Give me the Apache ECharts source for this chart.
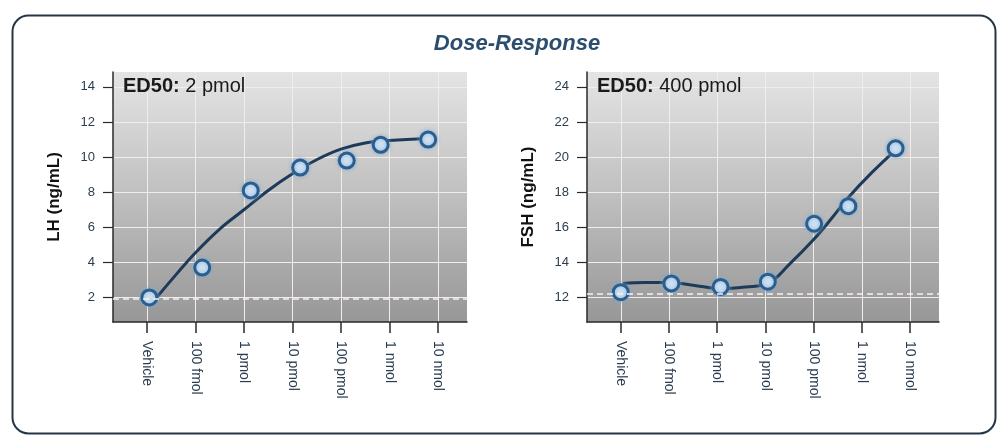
<!DOCTYPE html>
<html>
<head>
<meta charset="utf-8">
<script src="https://cdn.jsdelivr.net/npm/echarts@6/dist/echarts.min.js"></script>
<style>
html,body{margin:0;padding:0;background:#fff;}
#chart{width:997px;height:435px;}
</style>
</head>
<body>
<div id="chart"></div>
<script>
// Category labels (dose)
var doseLabels = ['Vehicle', '100 fmol', '1 pmol', '10 pmol', '100 pmol', '1 nmol', '10 nmol'];
var doseTickPos = [0, 1, 2, 3, 4, 5, 6];

// LH panel
var lhPointX = [0.05, 1.14, 2.14, 3.16, 4.12, 4.82, 5.80];
var lhPointY = [2.0, 3.7, 8.1, 9.4, 9.8, 10.7, 11.0];
var lhFitX = [0.2, 0.6, 1.0, 1.5, 2.0, 2.5, 3.0, 3.5, 4.0, 4.5, 5.0, 5.8];
var lhFitY = [2.0, 3.3, 4.55, 5.9, 7.0, 8.1, 9.05, 9.85, 10.45, 10.8, 10.95, 11.05];
var lhBaseline = 1.95;
var lhTicks = [2, 4, 6, 8, 10, 12, 14];

// FSH panel
var fshPointX = [0.0, 1.05, 2.07, 3.05, 4.01, 4.72, 5.70];
var fshPointY = [12.3, 12.8, 12.6, 12.9, 16.2, 17.2, 20.5];
var fshFitX = [0.05, 0.5, 1.0, 1.5, 2.07, 2.6, 3.05, 3.5, 4.0, 4.4, 4.72, 5.2, 5.7];
var fshFitY = [12.8, 12.85, 12.85, 12.7, 12.5, 12.6, 12.8, 13.9, 15.3, 16.6, 17.7, 19.1, 20.4];
var fshBaseline = 12.2;
var fshTicks = [12, 14, 16, 18, 20, 22, 24];

function pairs(xs, ys) { return xs.map(function (x, i) { return [x, ys[i]]; }); }

var FONT = "'Liberation Sans', Arial, sans-serif";
var axisColor = '#2a2a2a';
var labelColor = '#2b3d4f';
var gridLineColor = '#f4ece8';

function bgGradient() {
  return new echarts.graphic.LinearGradient(0, 0, 0, 1, [
    { offset: 0, color: '#e4e4e4' },
    { offset: 0.5, color: '#bfbfbf' },
    { offset: 1, color: '#979797' }
  ]);
}

function makeX(gridIndex) {
  return {
    type: 'value', gridIndex: gridIndex, min: -0.7, max: 6.6,
    axisLine: { show: true, onZero: false, lineStyle: { color: axisColor, width: 1.5 } },
    axisTick: { show: true, customValues: doseTickPos, length: 11, lineStyle: { color: axisColor, width: 1.5 } },
    axisLabel: {
      customValues: doseTickPos, rotate: -90, margin: 19,
      fontFamily: FONT, fontSize: 14, color: labelColor,
      formatter: function (v) { return doseLabels[Math.round(v)] || ''; }
    },
    splitLine: { show: true, lineStyle: { color: gridLineColor, width: 1 } }
  };
}

function makeY(gridIndex, min, max, ticks, name) {
  return {
    type: 'value', gridIndex: gridIndex, min: min, max: max,
    name: name, nameLocation: 'middle', nameGap: 50, nameRotate: 90,
    nameTextStyle: { fontFamily: FONT, fontSize: 17, fontWeight: 'bold', color: '#111' },
    axisLine: { show: true, onZero: false, lineStyle: { color: axisColor, width: 1.5 } },
    axisTick: { show: true, customValues: ticks, length: 10, lineStyle: { color: axisColor, width: 1.2 } },
    axisLabel: { customValues: ticks, margin: 18, fontFamily: FONT, fontSize: 13, color: labelColor },
    splitLine: { show: true, lineStyle: { color: gridLineColor, width: 1 } }
  };
}

function fitSeries(idx, xs, ys, base) {
  return {
    type: 'line', xAxisIndex: idx, yAxisIndex: idx,
    data: pairs(xs, ys), smooth: 0.4, symbol: 'none', z: 3,
    lineStyle: { color: '#1d3a58', width: 3 },
    markLine: {
      silent: true, symbol: 'none', label: { show: false },
      lineStyle: { color: '#f6f2f2', type: [6, 4], width: 1.5 },
      data: [{ yAxis: base }]
    }
  };
}

function pointSeries(idx, xs, ys) {
  return {
    type: 'scatter', xAxisIndex: idx, yAxisIndex: idx,
    data: pairs(xs, ys), symbol: 'circle', symbolSize: 15, z: 4,
    itemStyle: {
      color: '#cfe1f2', borderColor: '#2c5e8c', borderWidth: 3, opacity: 1,
      shadowBlur: 4, shadowColor: 'rgba(120,170,220,0.8)'
    }
  };
}

var chart = echarts.init(document.getElementById('chart'), null, { renderer: 'canvas' });
chart.setOption({
  animation: false,
  backgroundColor: '#ffffff',
  grid: [
    { left: 113, top: 72, width: 354, height: 250, show: true, backgroundColor: bgGradient(), borderWidth: 0 },
    { left: 587, top: 72, width: 352, height: 250, show: true, backgroundColor: bgGradient(), borderWidth: 0 }
  ],
  xAxis: [makeX(0), makeX(1)],
  yAxis: [makeY(0, 0.6, 14.85, lhTicks, 'LH (ng/mL)'), makeY(1, 10.6, 24.85, fshTicks, 'FSH (ng/mL)')],
  series: [
    fitSeries(0, lhFitX, lhFitY, lhBaseline),
    pointSeries(0, lhPointX, lhPointY),
    fitSeries(1, fshFitX, fshFitY, fshBaseline),
    pointSeries(1, fshPointX, fshPointY)
  ],
  graphic: [
    {
      type: 'rect', left: 10, top: 13, silent: true, z: -1,
      shape: { width: 983, height: 418, r: 16 },
      style: { fill: 'none', stroke: '#243646', lineWidth: 2 }
    },
    {
      type: 'text', x: 517, y: 44, z: 10,
      style: {
        text: 'Dose-Response', textAlign: 'center', textVerticalAlign: 'middle',
        font: "italic bold 22px 'Liberation Sans', Arial, sans-serif", fill: '#2c4d6e'
      }
    },
    {
      type: 'text', x: 123, y: 86, z: 10,
      style: {
        text: '{b|ED50:} 2 pmol', textVerticalAlign: 'middle',
        fontFamily: FONT, fontSize: 20, fill: '#1a1a1a',
        rich: { b: { fontWeight: 'bold', fontFamily: FONT, fontSize: 20, fill: '#1a1a1a' } }
      }
    },
    {
      type: 'text', x: 597, y: 86, z: 10,
      style: {
        text: '{b|ED50:} 400 pmol', textVerticalAlign: 'middle',
        fontFamily: FONT, fontSize: 20, fill: '#1a1a1a',
        rich: { b: { fontWeight: 'bold', fontFamily: FONT, fontSize: 20, fill: '#1a1a1a' } }
      }
    }
  ]
});
</script>
</body>
</html>
